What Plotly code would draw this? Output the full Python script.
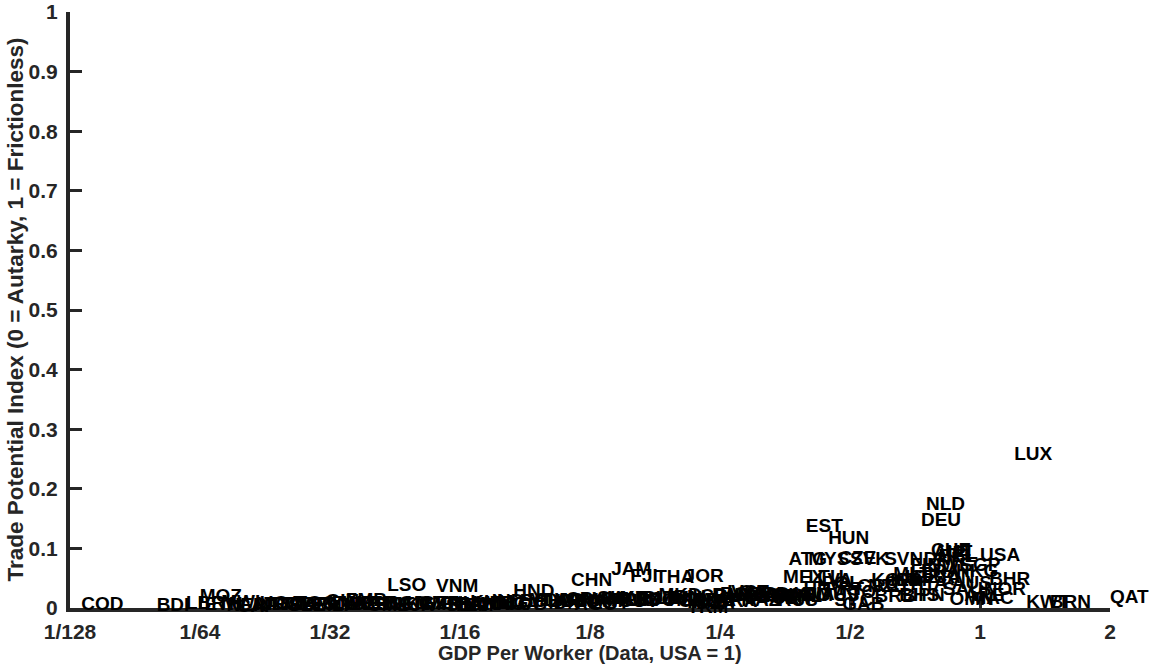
import math
import plotly.graph_objects as go

codes = ["COD","BDI","LBR","ETH","MOZ","MWI","NER","CAF","MDG","TCD","UGA","RWA","TZA","SLE","TGO",
         "BFA","MLI","GNB","GIN","ZWE","NPL","ZMB","KEN","BEN","GMB","HTI","LSO","BGD","SEN","TJK",
         "KGZ","CMR","MRT","VNM","GHA","SDN","YEM","PAK","LAO","KHM","UZB","MNG","IND","NGA","COG",
         "HND","BOL","MDA","PHL","LKA","IDN","ARM","GEO","CPV","CHN","AGO","NAM","MAR","EGY","SLV",
         "GTM","UKR","ALB","JAM","GUY","PRY","FJI","ECU","BLZ","DOM","THA","MKD","TUN","PER","BIH",
         "COL","JOR","IRN","TKM","BWA","DZA","CRI","ZAF","PAN","BRA","BGR","LCA","VCT","DMA","KAZ",
         "BLR","GRD","LBN","TUR","URY","VEN","ROU","RUS","CHL","MEX","ATG","ARG","KNA","HRV","EST",
         "LTU","MYS","LVA","MUS","POL","PRT","HUN","SYC","CZE","TTO","GAB","SVK","GRC","NZL","KOR",
         "BRB","CYP","SVN","ISR","MLT","ESP","BHS","ISL","FIN","JPN","GBR","ITA","DEU","FRA","DNK",
         "NLD","SWE","CHE","CAN","AUT","BEL","SAU","IRL","OMN","AUS","HKG","SGP","ARE","MAC","USA",
         "NOR","BHR","LUX","KWT","BRN","QAT"]

gdp_per_worker = [0.0083,0.0124,0.0145,0.0160,0.0156,0.0175,0.0180,0.0190,0.0210,0.0220,0.0215,0.0230,0.0240,0.0250,0.0260,
                  0.0270,0.0290,0.0300,0.0305,0.0315,0.0330,0.0340,0.0360,0.0370,0.0380,0.0400,0.0424,0.0420,0.0430,0.0450,
                  0.0470,0.0500,0.0520,0.0550,0.0560,0.0580,0.0600,0.0620,0.0640,0.0660,0.0680,0.0710,0.0740,0.0760,0.0790,
                  0.0830,0.0860,0.0900,0.0930,0.0970,0.1000,0.1040,0.1060,0.1100,0.1130,0.1150,0.1180,0.1200,0.1250,0.1300,
                  0.1330,0.1370,0.1400,0.1400,0.1450,0.1500,0.1550,0.1600,0.1650,0.1700,0.1770,0.1800,0.1850,0.1900,0.1950,
                  0.2000,0.2070,0.2100,0.2100,0.2150,0.2200,0.2250,0.2300,0.2400,0.2450,0.2500,0.2600,0.2650,0.2700,0.2800,
                  0.2850,0.2900,0.3000,0.3100,0.3200,0.3300,0.3350,0.3400,0.3500,0.3500,0.3600,0.3600,0.3700,0.3900,0.3950,
                  0.4000,0.4000,0.4200,0.4200,0.4300,0.4400,0.4450,0.4600,0.4700,0.4700,0.4800,0.5000,0.5200,0.5500,0.5600,
                  0.5700,0.6000,0.6000,0.6200,0.6300,0.6400,0.6500,0.6700,0.6900,0.6800,0.7000,0.7200,0.7300,0.7300,0.7400,
                  0.7500,0.7600,0.7700,0.7800,0.7800,0.8000,0.8200,0.8400,0.8500,0.8600,0.8800,0.9000,0.9200,0.9500,1.0000,
                  1.0200,1.0500,1.2000,1.2800,1.4500,2.0000]

trade_potential = [0.005,0.003,0.006,0.004,0.018,0.008,0.003,0.002,0.004,0.005,0.006,0.005,0.004,0.003,0.006,
                   0.004,0.003,0.005,0.010,0.006,0.004,0.012,0.006,0.005,0.003,0.004,0.037,0.006,0.005,0.003,
                   0.007,0.006,0.004,0.034,0.006,0.003,0.003,0.005,0.004,0.008,0.006,0.007,0.010,0.004,0.005,
                   0.027,0.009,0.012,0.010,0.012,0.006,0.012,0.010,0.013,0.045,0.005,0.010,0.012,0.006,0.015,
                   0.013,0.014,0.012,0.064,0.010,0.011,0.052,0.013,0.014,0.012,0.050,0.019,0.015,0.012,0.016,
                   0.010,0.052,0.008,0.000,0.012,0.007,0.018,0.012,0.020,0.010,0.022,0.024,0.025,0.020,0.012,
                   0.018,0.022,0.020,0.015,0.018,0.014,0.020,0.012,0.018,0.050,0.080,0.020,0.022,0.030,0.136,
                   0.050,0.080,0.045,0.020,0.040,0.030,0.116,0.012,0.082,0.025,0.005,0.080,0.035,0.035,0.045,
                   0.018,0.040,0.080,0.045,0.055,0.045,0.020,0.050,0.070,0.020,0.050,0.040,0.146,0.060,0.080,
                   0.173,0.070,0.096,0.050,0.092,0.085,0.030,0.090,0.013,0.040,0.060,0.070,0.020,0.015,0.086,
                   0.029,0.047,0.257,0.008,0.008,0.017]

x_tick_vals = [1/128, 1/64, 1/32, 1/16, 1/8, 1/4, 1/2, 1, 2]
x_tick_text = ["1/128", "1/64", "1/32", "1/16", "1/8", "1/4", "1/2", "1", "2"]
y_tick_vals = [0, 0.1, 0.2, 0.3, 0.4, 0.5, 0.6, 0.7, 0.8, 0.9, 1]
y_tick_text = ["0", "0.1", "0.2", "0.3", "0.4", "0.5", "0.6", "0.7", "0.8", "0.9", "1"]
x_title = "GDP Per Worker (Data, USA = 1)"
y_title = "Trade Potential Index (0 = Autarky, 1 = Frictionless)"

FONT = "Liberation Sans"
AX = "#262626"

fig = go.Figure()
fig.add_trace(go.Scatter(
    x=gdp_per_worker, y=trade_potential, mode="text", text=codes,
    textposition="middle right",
    textfont=dict(family=FONT, size=19, color="black", weight="bold"),
    cliponaxis=False, hoverinfo="text", showlegend=False,
))

fig.update_layout(
    width=1170, height=672,
    paper_bgcolor="white", plot_bgcolor="white",
    margin=dict(l=70, r=60, t=12, b=64, autoexpand=False),
    font=dict(family=FONT, size=19, color=AX),
    xaxis=dict(
        type="log", range=[math.log10(1/128), math.log10(2)],
        tickvals=x_tick_vals, ticktext=x_tick_text, automargin=False,
        ticks="inside", ticklen=12, tickwidth=3, tickcolor=AX, ticklabelstandoff=2,
        showline=True, linewidth=4, linecolor=AX, showgrid=False, zeroline=False,
        layer="below traces",
        tickfont=dict(family=FONT, size=21, color=AX, weight="bold"),
    ),
    yaxis=dict(
        range=[0, 1], tickvals=y_tick_vals, ticktext=y_tick_text, automargin=False,
        ticks="inside", ticklen=12, tickwidth=3, tickcolor=AX, ticklabelstandoff=4,
        showline=True, linewidth=4, linecolor=AX, showgrid=False, zeroline=False,
        layer="below traces",
        tickfont=dict(family=FONT, size=21, color=AX, weight="bold"),
    ),
    annotations=[
        dict(text=x_title, xref="paper", yref="paper", x=0.5, y=0,
             xanchor="center", yanchor="top", yshift=-32, showarrow=False,
             font=dict(family=FONT, size=20, color=AX, weight="bold")),
        dict(text=y_title, xref="paper", yref="paper", x=0, y=0.5,
             xanchor="right", yanchor="middle", xshift=-41, textangle=-90, showarrow=False,
             font=dict(family=FONT, size=22.5, color=AX, weight="bold")),
    ],
)

fig.write_html("out.html", post_script="document.body.style.margin='0';",
               config={"displayModeBar": False})
